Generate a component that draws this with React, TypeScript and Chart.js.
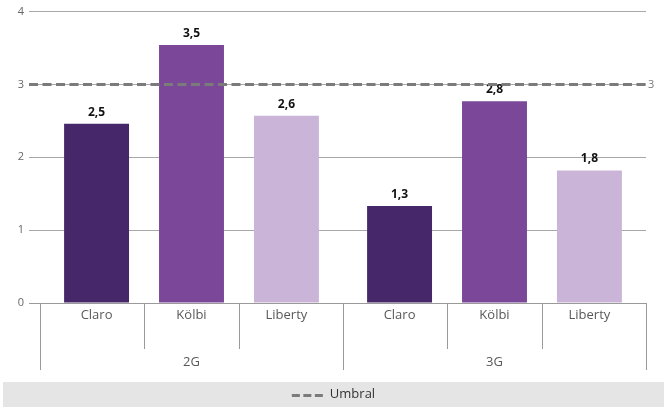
import React, { useEffect, useRef } from "react";
import { Chart, registerables } from "chart.js";

Chart.register(...registerables);

// ---- data ----
const groups = ["2G", "3G"];
const operators = ["Claro", "Kölbi", "Liberty"];
const claroValues = [2.46, 1.33];
const kolbiValues = [3.54, 2.77];
const libertyValues = [2.57, 1.82];
const umbralValue = 3;
const umbralLabel = "Umbral";
const yMin = 0;
const yMax = 4;
const yStep = 1;

const seriesValues = [claroValues, kolbiValues, libertyValues];
const seriesColors = ["#46286a", "#7a4799", "#cab5d9"];

const FONT = "'Open Sans', 'DejaVu Sans', sans-serif";

const fmt = (v: number) => v.toFixed(1).replace(".", ",");

const overlayPlugin = {
  id: "overlay",
  afterDatasetsDraw(chart: any) {
    const { ctx, chartArea, scales } = chart;
    const y = scales.y;
    const x = scales.x;
    ctx.save();

    // data labels
    ctx.fillStyle = "#111";
    ctx.font = `bold 12px ${FONT}`;
    ctx.textAlign = "center";
    ctx.textBaseline = "alphabetic";
    chart.data.datasets.forEach((ds: any, di: number) => {
      const meta = chart.getDatasetMeta(di);
      meta.data.forEach((bar: any, i: number) => {
        ctx.fillText(fmt(ds.data[i]), bar.x, bar.y - 8);
      });
    });

    // umbral line
    const yu = y.getPixelForValue(umbralValue);
    ctx.strokeStyle = "#7b7b7b";
    ctx.lineWidth = 3;
    ctx.setLineDash([9, 4.5]);
    ctx.beginPath();
    ctx.moveTo(chartArea.left - 11, yu);
    ctx.lineTo(chartArea.right, yu);
    ctx.stroke();
    ctx.setLineDash([]);
    ctx.fillStyle = "#777";
    ctx.font = `11px ${FONT}`;
    ctx.textAlign = "left";
    ctx.textBaseline = "middle";
    ctx.fillText(String(umbralValue), chartArea.right + 2, yu);

    // multi-level category axis
    const bottom = chartArea.bottom;
    ctx.strokeStyle = "#9a9a9a";
    ctx.lineWidth = 1;
    const nCat = chart.data.labels.length;
    const catW = (chartArea.right - chartArea.left) / nCat;
    const vline = (px: number, y2: number) => {
      const xx = Math.round(px) + 0.5;
      ctx.beginPath();
      ctx.moveTo(xx, bottom);
      ctx.lineTo(xx, y2);
      ctx.stroke();
    };
    for (let i = 0; i < nCat; i++) {
      const cx = x.getPixelForValue(i);
      vline(cx - catW / 2, bottom + 67);
      if (i === nCat - 1) vline(cx + catW / 2, bottom + 67);
      const bars = chart.data.datasets.map((_: any, di: number) => chart.getDatasetMeta(di).data[i]);
      for (let b = 0; b < bars.length - 1; b++) {
        vline((bars[b].x + bars[b + 1].x) / 2, bottom + 46);
      }
      ctx.fillStyle = "#595959";
      ctx.font = `13px ${FONT}`;
      ctx.textAlign = "center";
      ctx.textBaseline = "middle";
      bars.forEach((bar: any, di: number) => {
        ctx.fillText(chart.data.datasets[di].label, bar.x, bottom + 12);
      });
      ctx.fillText(chart.data.labels[i], cx, bottom + 59);
    }

    // legend
    const W = chart.width;
    const lx0 = 3, lx1 = W - 4, ly0 = 382, ly1 = 407;
    ctx.fillStyle = "#e5e5e5";
    ctx.fillRect(lx0, ly0, lx1 - lx0, ly1 - ly0);
    ctx.font = `13px ${FONT}`;
    const tw = ctx.measureText(umbralLabel).width;
    const sampleW = 34;
    const gap = 4;
    const total = sampleW + gap + tw;
    const sx = (lx0 + lx1) / 2 - total / 2;
    const ly = (ly0 + ly1) / 2;
    ctx.strokeStyle = "#7b7b7b";
    ctx.lineWidth = 3;
    ctx.setLineDash([8, 3.5]);
    ctx.beginPath();
    ctx.moveTo(sx, ly + 1);
    ctx.lineTo(sx + sampleW, ly + 1);
    ctx.stroke();
    ctx.setLineDash([]);
    ctx.fillStyle = "#333";
    ctx.textAlign = "left";
    ctx.textBaseline = "middle";
    ctx.fillText(umbralLabel, sx + sampleW + gap, ly);

    ctx.restore();
  },
};

export default function App() {
  const ref = useRef<HTMLCanvasElement | null>(null);

  useEffect(() => {
    document.body.style.margin = "0";
    const canvas = ref.current;
    if (!canvas) return;
    const chart = new Chart(canvas, {
      type: "bar",
      data: {
        labels: groups,
        datasets: operators.map((op, i) => ({
          label: op,
          data: seriesValues[i],
          backgroundColor: seriesColors[i],
          borderWidth: 0,
          categoryPercentage: 0.94,
          barPercentage: 0.684,
        })),
      },
      options: {
        responsive: false,
        animation: false,
        devicePixelRatio: 1,
        layout: { padding: { top: 9, right: 22, bottom: 105, left: 0 } },
        plugins: {
          legend: { display: false },
          tooltip: { enabled: false },
        },
        scales: {
          x: { display: false },
          y: {
            min: yMin,
            max: yMax,
            ticks: {
              stepSize: yStep,
              color: "#666",
              padding: 5,
              font: { family: FONT, size: 11 },
            },
            grid: {
              color: (c: any) => (c.tick && c.tick.value === 0 ? "#9a9a9a" : "#a8a8a8"),
              tickLength: 11,
              drawTicks: true,
            },
            border: { display: false },
            afterFit: (s: any) => {
              s.width = 40;
            },
          },
        },
      },
      plugins: [overlayPlugin],
    } as any);
    return () => chart.destroy();
  }, []);

  return (
    <canvas
      ref={ref}
      width={668}
      height={408}
      style={{ display: "block", width: 668, height: 408 }}
    />
  );
}
